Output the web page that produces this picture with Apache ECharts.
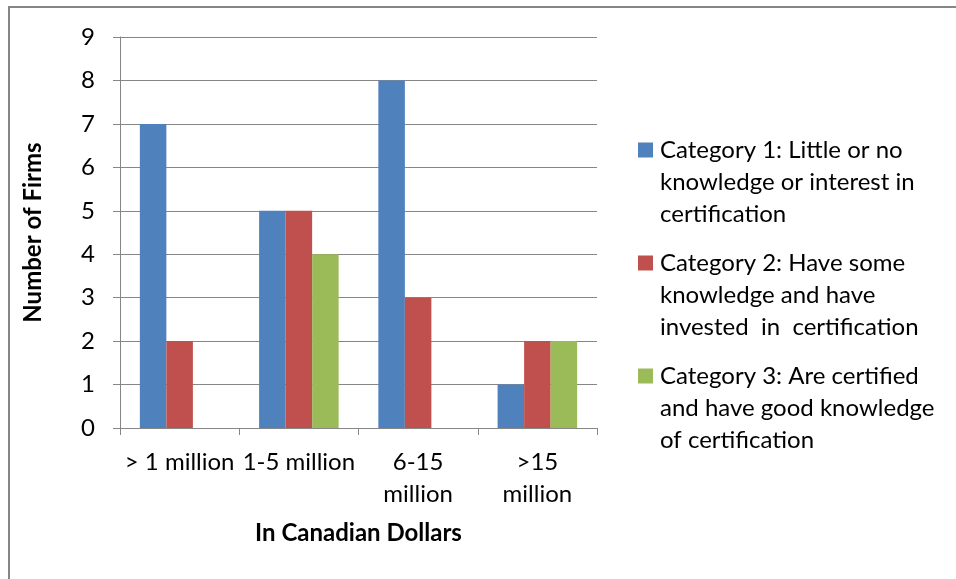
<!DOCTYPE html>
<html>
<head>
<meta charset="utf-8">
<title>Firms by revenue and certification category</title>
<script src="https://cdn.jsdelivr.net/npm/echarts@6/dist/echarts.min.js"></script>
<style>
  html, body { margin: 0; padding: 0; background: #fff; }
  #chart { width: 956px; height: 579px; }
</style>
</head>
<body>
<div id="chart"></div>
<script>
// Revenue bands (x axis)
const revenueBands = ['> 1 million', '1-5 million', '6-15\nmillion', '>15\nmillion'];

// Firm counts per certification category
const category1 = [7, 5, 8, 1];
const category2 = [2, 5, 3, 2];
const category3 = [0, 4, 0, 2];

const seriesNames = [
  'Category 1: Little or no\nknowledge or interest in\ncertification',
  'Category 2: Have some\nknowledge and have\ninvested  in  certification',
  'Category 3: Are certified\nand have good knowledge\nof certification'
];
const seriesColors = ['#4F81BD', '#C0504D', '#9BBB59'];

const yTicks = { min: 0, max: 9, interval: 1 };

const FONT = 'Lato';
const FONT_SIZE = 24;
const AXIS_GRAY = '#868686';

// Legend marker: a square sitting on the first text line of a three-line entry
const legendIcon = 'path://M0,0h0.01M0,8.5h15v15h-15zM0,96h0.01';

const chart = echarts.init(document.getElementById('chart'), null, { renderer: 'canvas' });

const makeBar = (name, data, color) => ({
  name: name,
  type: 'bar',
  data: data,
  barGap: '0%',
  barCategoryGap: '33.3%',
  itemStyle: { color: color },
  emphasis: { disabled: true }
});

chart.setOption({
  animation: false,
  backgroundColor: '#ffffff',
  textStyle: { fontFamily: FONT },
  graphic: [{
    type: 'rect',
    shape: { x: 9, y: 7, width: 1200, height: 1200 },
    style: { fill: 'none', stroke: AXIS_GRAY, lineWidth: 2 },
    silent: true
  }],
  grid: { left: 120, right: 359, top: 37, bottom: 151, containLabel: false },
  legend: {
    orient: 'vertical',
    left: 638,
    top: 134,
    padding: 0,
    itemWidth: 15,
    itemHeight: 96,
    itemGap: 17,
    icon: legendIcon,
    selectedMode: false,
    textStyle: {
      fontFamily: FONT,
      fontSize: FONT_SIZE,
      lineHeight: 32,
      color: '#000',
      padding: [0, 0, 0, 2]
    },
    data: seriesNames
  },
  xAxis: {
    type: 'category',
    data: revenueBands,
    name: 'In Canadian Dollars',
    nameLocation: 'middle',
    nameGap: 93,
    nameTextStyle: { fontFamily: FONT, fontSize: FONT_SIZE, fontWeight: 'bold', color: '#000' },
    axisLine: { show: true, lineStyle: { color: AXIS_GRAY, width: 1 } },
    axisTick: { show: true, length: 7, lineStyle: { color: AXIS_GRAY } },
    axisLabel: {
      fontFamily: FONT, fontSize: FONT_SIZE, color: '#000', lineHeight: 32,
      margin: 18, interval: 0
    },
    splitLine: { show: false }
  },
  yAxis: {
    type: 'value',
    min: yTicks.min,
    max: yTicks.max,
    interval: yTicks.interval,
    name: 'Number of Firms',
    nameLocation: 'middle',
    nameGap: 75,
    nameRotate: 90,
    nameTextStyle: { fontFamily: FONT, fontSize: FONT_SIZE, fontWeight: 'bold', color: '#000' },
    axisLine: { show: true, lineStyle: { color: AXIS_GRAY, width: 1 } },
    axisTick: { show: true, length: 7, lineStyle: { color: AXIS_GRAY } },
    axisLabel: { fontFamily: FONT, fontSize: FONT_SIZE, color: '#000', margin: 25 },
    splitLine: { show: true, lineStyle: { color: AXIS_GRAY, width: 1 } }
  },
  series: [
    makeBar(seriesNames[0], category1, seriesColors[0]),
    makeBar(seriesNames[1], category2, seriesColors[1]),
    makeBar(seriesNames[2], category3, seriesColors[2])
  ]
});
</script>
</body>
</html>
